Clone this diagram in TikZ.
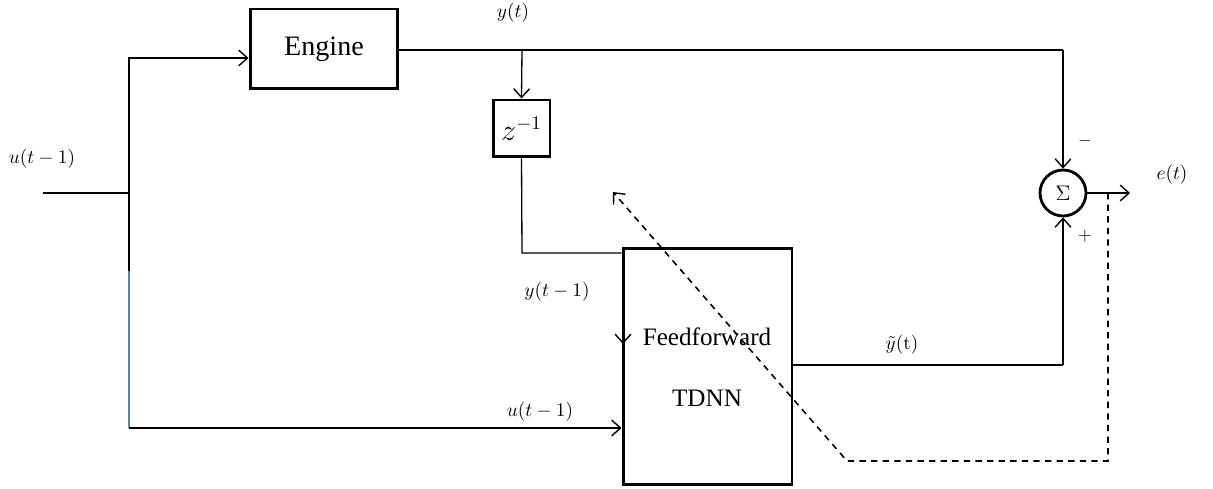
\documentclass[tikz,border=0pt]{standalone}
\usepackage[no-math]{fontspec}
\setmainfont{Liberation Serif}
\usetikzlibrary{arrows.meta,calc}
\begin{document}
\begin{tikzpicture}[x=0.02cm,y=-0.02cm,
  blk/.style={draw,line width=1.7pt,inner sep=0pt},
  sig/.style={line width=0.75pt},
  arr/.style={sig,-{Straight Barb[length=5pt,width=9pt,line width=0.8pt]}},
  dsh/.style={line width=0.9pt,dash pattern=on 3.6pt off 3pt},
  lbl/.style={font=\fontsize{11}{13}\selectfont,inner sep=0pt},
  pm/.style={font=\fontsize{10}{12}\selectfont,inner sep=0pt}]
\useasboundingbox (0,0) rectangle (1213,489);
% blocks
\node[blk,minimum width=2.96cm,minimum height=1.6cm,font=\fontsize{16}{19}\selectfont] (eng) at (324,49) {Engine};
\node[blk,minimum width=1.14cm,minimum height=1.14cm,font=\fontsize{16}{19}\selectfont] (z) at (521.5,128.5) {$z^{-1}$};
\node[blk,minimum width=3.38cm,minimum height=4.74cm] (nn) at (707.5,366.5) {};
\node[font=\fontsize{14.3}{17}\selectfont,inner sep=0pt] (ff) at (707,337) {Feedforward};
\node[font=\fontsize{14.3}{17}\selectfont,inner sep=0pt] (td) at (707,398) {TDNN};
\node[draw,circle,line width=1.6pt,minimum size=0.92cm,inner sep=0pt,font=\fontsize{12}{14}\selectfont] (sum) at (1063,193) {$\Sigma$};
% coordinates
\coordinate (in) at (43,193);
\coordinate (br) at (129,193);
\coordinate (up) at (129,58);
\coordinate (blu) at (129,271);
\coordinate (bot) at (129,428);
\coordinate (ytap) at (522,50);
\coordinate (zturn) at (522,253);
\coordinate (ycorner) at (1063,50);
\coordinate (yhcorner) at (1063,365);
\coordinate (eout) at (1130,193);
\coordinate (etap) at (1108,193);
\coordinate (d1) at (1108,461);
\coordinate (d2) at (847,461);
\coordinate (d3) at (613,192);
\coordinate (ya) at (623,330);
\coordinate (yb) at (623,344);
% connectors
\draw[sig] (in) -- (br) -- (blu);
\draw[sig,color={rgb,255:red,100;green,130;blue,160}] (blu) -- (bot);
\draw[arr] (br) -- (up) -- (eng.west|-up);
\draw[arr] (bot) -- (nn.west|-bot);
\draw[sig] (eng.east|-ycorner) -- (ycorner);
\draw[arr] (ycorner) -- (sum.north);
\draw[arr] (ytap) -- (z.north);
\draw[sig] (z.south) -- (zturn) -- (nn.west|-zturn);
\draw[arr] (ya) -- (yb);
\draw[sig] (nn.east|-yhcorner) -- (yhcorner);
\draw[arr] (yhcorner) -- (sum.south);
\draw[arr] (sum.east) -- (eout);
\draw[dsh,-{Straight Barb[length=5pt,width=9pt,line width=0.8pt]}] (etap) -- (d1) -- (d2) -- (d3);
% labels
\node[lbl] (l1) at (42,159) {$u(t-1)$};
\node[lbl] (l2) at (513,13) {$y(t)$};
\node[lbl] (l3) at (557,292) {$y(t-1)$};
\node[lbl] (l4) at (540,412) {$u(t-1)$};
\node[lbl] (l5) at (902,345) {$\tilde{y}(\mathrm{t})$};
\node[lbl] (l6) at (1172,175) {$e(t)$};
\node[pm] (m) at (1085,141) {$-$};
\node[pm] (p) at (1085,236) {$+$};
\end{tikzpicture}
\end{document}
